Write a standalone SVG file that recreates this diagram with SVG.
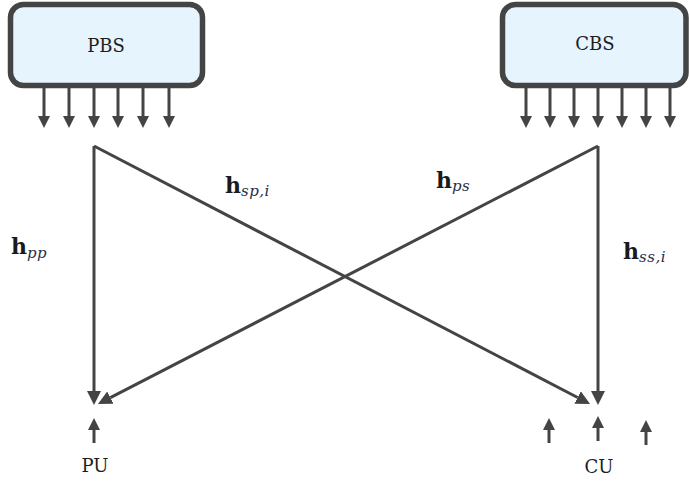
<svg xmlns="http://www.w3.org/2000/svg" width="689" height="483" viewBox="0 0 689 483">
  <defs>
    <style>
      .box { fill: #e6f4fd; stroke: #444; stroke-width: 5.5; }
      .lbl { font-family: "DejaVu Serif", "Liberation Serif", serif; font-size: 18px; fill: #1e1e1e; text-anchor: middle; }
      .ant { stroke: #444; stroke-width: 3; fill: none; }
      .ch { stroke: #444; stroke-width: 3; fill: none; }
      .mh { font-family: "DejaVu Serif", "Liberation Serif", serif; font-weight: bold; font-size: 22px; fill: #1a1a1a; }
      .ms { font-family: "DejaVu Serif", "Liberation Serif", serif; font-style: italic; font-size: 15px; fill: #2b2f45; letter-spacing: 0.5px; }
    </style>
    <marker id="headS" markerUnits="userSpaceOnUse" markerWidth="14" markerHeight="14" viewBox="0 -7 14 14" refX="0" refY="0" orient="auto">
      <path d="M0,-6 L12,0 L0,6 z" fill="#444"/>
    </marker>
    <marker id="headL" markerUnits="userSpaceOnUse" markerWidth="16" markerHeight="16" viewBox="0 -8 16 16" refX="0" refY="0" orient="auto">
      <path d="M0,-7 L14,0 L0,7 z" fill="#444"/>
    </marker>
  </defs>

  <!-- primary base station with its antenna elements -->
  <g id="PBS">
    <rect class="box" x="10.5" y="4.5" width="192" height="81" rx="13"/>
    <text class="lbl" x="106" y="52">PBS</text>
    <g class="ant" marker-end="url(#headS)">
      <line x1="44" y1="88" x2="44" y2="116"/>
      <line x1="69" y1="88" x2="69" y2="116"/>
      <line x1="94" y1="88" x2="94" y2="116"/>
      <line x1="118" y1="88" x2="118" y2="116"/>
      <line x1="143" y1="88" x2="143" y2="116"/>
      <line x1="169" y1="88" x2="169" y2="116"/>
    </g>
  </g>

  <!-- cognitive base station with its antenna elements -->
  <g id="CBS">
    <rect class="box" x="502.5" y="4.5" width="183.5" height="81" rx="13"/>
    <text class="lbl" x="595" y="50">CBS</text>
    <g class="ant" marker-end="url(#headS)">
      <line x1="526" y1="88" x2="526" y2="116"/>
      <line x1="550" y1="88" x2="550" y2="116"/>
      <line x1="574" y1="88" x2="574" y2="116"/>
      <line x1="598" y1="88" x2="598" y2="116"/>
      <line x1="622" y1="88" x2="622" y2="116"/>
      <line x1="646" y1="88" x2="646" y2="116"/>
      <line x1="670" y1="88" x2="670" y2="116"/>
    </g>
  </g>

  <!-- primary user receiver -->
  <g id="PU">
    <line class="ant" x1="94" y1="443" x2="94" y2="430" marker-end="url(#headS)"/>
    <text class="lbl" x="95" y="472">PU</text>
  </g>

  <!-- cognitive user receivers -->
  <g id="CU">
    <g class="ant" marker-end="url(#headS)">
      <line x1="549" y1="443" x2="549" y2="430"/>
      <line x1="598" y1="441" x2="598" y2="428"/>
      <line x1="646" y1="445" x2="646" y2="432"/>
    </g>
    <text class="lbl" x="599" y="473">CU</text>
  </g>

  <!-- channel links -->
  <g id="connectors" class="ch" marker-end="url(#headL)">
    <line x1="94" y1="146" x2="94" y2="391"/>
    <line x1="94" y1="146" x2="577.6" y2="397.5"/>
    <line x1="598" y1="146" x2="598" y2="391"/>
    <line x1="598" y1="146" x2="110.4" y2="397.6"/>
  </g>

  <!-- channel labels -->
  <g id="labels">
    <text x="11" y="254"><tspan class="mh">h</tspan><tspan class="ms" dy="4">pp</tspan></text>
    <text x="225" y="193"><tspan class="mh">h</tspan><tspan class="ms" dy="3">sp,i</tspan></text>
    <text x="436" y="188"><tspan class="mh">h</tspan><tspan class="ms" dy="3">ps</tspan></text>
    <text x="623" y="259"><tspan class="mh">h</tspan><tspan class="ms" dy="3">ss,i</tspan></text>
  </g>
</svg>
